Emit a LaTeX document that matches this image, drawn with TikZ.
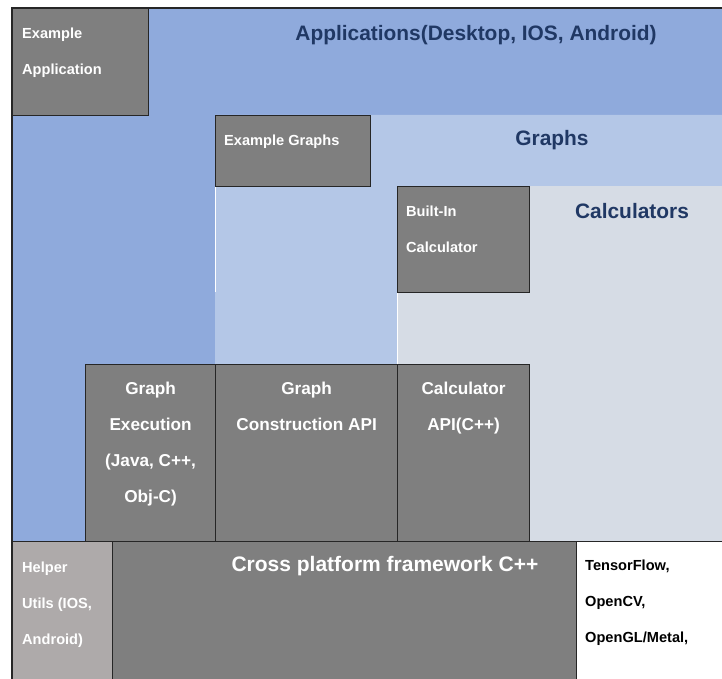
\documentclass[tikz,border=0pt]{standalone}
\usepackage{fontspec}
\setmainfont{Liberation Sans}
\usetikzlibrary{positioning}

\definecolor{appblue}{HTML}{8FAADC}
\definecolor{graphblue}{HTML}{B4C7E7}
\definecolor{calcgray}{HTML}{D6DCE5}
\definecolor{boxgray}{HTML}{7F7F7F}
\definecolor{helpgray}{HTML}{AEAAAA}
\definecolor{titleblue}{HTML}{203864}
\definecolor{edge}{HTML}{262626}

\begin{document}
\begin{tikzpicture}[
  x=1pt, y=-1pt,
  box/.style={draw=edge, line width=1.2pt, fill=boxgray, inner sep=0pt, anchor=north west},
  smalllbl/.style={inner sep=0pt, align=left, text=white, font=\fontsize{14.6}{36}\selectfont\bfseries},
  midlbl/.style={inner sep=0pt, align=center, text=white, font=\fontsize{17.2}{36}\selectfont\bfseries},
  title/.style={inner sep=0pt, anchor=north, text=titleblue, font=\fontsize{20.9}{24}\selectfont\bfseries}
]
\useasboundingbox (0,0) rectangle (722,679);

% layers
\fill[appblue] (12,8) -- (724,8) -- (724,115) -- (215,115) -- (215,541) -- (12,541) -- cycle;
\fill[graphblue] (215,115) -- (724,115) -- (724,186) -- (397,186) -- (397,364) -- (215,364) -- cycle;
\fill[calcgray] (397,186) rectangle (724,541);
\draw[white, line width=0.8pt] (215,186) -- (215,292);
\draw[white, line width=0.8pt] (397,292) -- (397,364);

\node[title] (apptitle) at (476,25) {Applications(Desktop, IOS, Android)};
\node[title] (graphtitle) at (552,130) {Graphs};
\node[title] (calctitle) at (632,203) {Calculators};

% boxes
\node[box, minimum width=136pt, minimum height=107pt] (exapp) at (12,8) {};
\node[box, minimum width=155pt, minimum height=71pt] (exgraph) at (215,115) {};
\node[box, minimum width=132pt, minimum height=106pt] (builtin) at (397,186) {};
\node[box, minimum width=130pt, minimum height=177pt] (gexec) at (85,364) {};
\node[box, minimum width=182pt, minimum height=177pt] (gcons) at (215,364) {};
\node[box, minimum width=132pt, minimum height=177pt] (calcapi) at (397,364) {};
\node[box, fill=helpgray, minimum width=100pt, minimum height=140pt] (helper) at (12,541) {};
\node[box, minimum width=464pt, minimum height=140pt] (cross) at (112,541) {};
\node[box, fill=white, minimum width=148pt, minimum height=140pt] (thirdp) at (576,541) {};

% outer frame
\draw[edge, line width=1.2pt] (12,681) -- (12,8) -- (724,8);

% labels
\node[smalllbl, below right=20pt and 10pt of exapp.north west] (exapptxt) {Example\\Application};
\node[smalllbl, below right=20pt and 9pt of exgraph.north west] (exgraphtxt) {Example Graphs};
\node[smalllbl, below right=20pt and 9pt of builtin.north west] (builtintxt) {Built-In\\Calculator};
\node[midlbl, below=18pt of gexec.north] (gexectxt) {Graph\\Execution\\(Java, C++,\\Obj-C)};
\node[midlbl, below=18pt of gcons.north] (gconstxt) {Graph\\Construction API};
\node[midlbl, below=18pt of calcapi.north] (calcapitxt) {Calculator\\API(C++)};
\node[smalllbl, below right=21pt and 10pt of helper.north west] (helpertxt) {Helper\\Utils (IOS,\\Android)};
\node[inner sep=0pt, anchor=north, text=white, font=\fontsize{21}{24}\selectfont\bfseries] (crosstxt) at (385,556) {Cross platform framework C++};
\node[smalllbl, text=black, below right=19pt and 9pt of thirdp.north west] (thirdptxt) {TensorFlow,\\OpenCV,\\OpenGL/Metal,};
\end{tikzpicture}
\end{document}
